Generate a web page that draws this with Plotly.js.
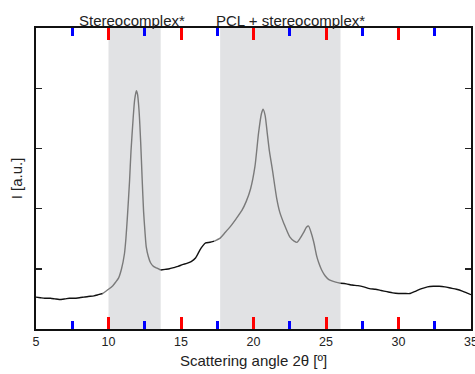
<!DOCTYPE html>
<html>
<head>
<meta charset="utf-8">
<script src="https://cdn.plot.ly/plotly-3.0.1.min.js"></script>
<style>html,body{margin:0;padding:0;background:#fff;}#chart{width:475px;height:374px;}</style>
</head>
<body>
<div id="chart"></div>
<script>
// Scattering angle 2θ (degrees)
const angle = [5, 5.3, 5.6, 6, 6.3, 6.6, 7, 7.3, 7.6, 8, 8.3, 8.6, 9, 9.3, 9.6, 10, 10.3, 10.5, 10.7, 10.9, 11.1, 11.2, 11.3, 11.45, 11.55, 11.7, 11.8, 11.92, 12.0, 12.1, 12.22, 12.32, 12.42, 12.52, 12.6, 12.75, 12.9, 13.1, 13.35, 13.6, 13.9, 14.2, 14.5, 14.8, 15.1, 15.4, 15.7, 16.0, 16.3, 16.5, 16.7, 17.0, 17.3, 17.7, 18.0, 18.4, 18.8, 19.2, 19.5, 19.8, 20.1, 20.35, 20.55, 20.66, 20.8, 20.95, 21.1, 21.3, 21.6, 21.8, 22.1, 22.5, 22.8, 23.0, 23.2, 23.45, 23.65, 23.8, 23.95, 24.15, 24.35, 24.5, 24.7, 24.95, 25.2, 25.5, 26, 26.4, 26.8, 27.2, 27.6, 28, 28.4, 28.8, 29.2, 29.6, 30, 30.4, 30.8, 31.2, 31.6, 32, 32.4, 32.8, 33.2, 33.6, 34, 34.4, 34.7, 35];
// Intensity (a.u.)
const intensity = [0.53, 0.52, 0.51, 0.51, 0.50, 0.49, 0.50, 0.51, 0.51, 0.52, 0.53, 0.54, 0.55, 0.57, 0.59, 0.66, 0.72, 0.78, 0.85, 1.0, 1.25, 1.5, 1.85, 2.45, 2.95, 3.5, 3.8, 3.96, 3.9, 3.65, 3.1, 2.5, 1.95, 1.6, 1.37, 1.2, 1.1, 1.04, 1.01, 0.98, 0.99, 1.0, 1.02, 1.04, 1.07, 1.09, 1.12, 1.18, 1.31, 1.38, 1.43, 1.44, 1.46, 1.51, 1.59, 1.7, 1.83, 1.97, 2.12, 2.33, 2.7, 3.26, 3.58, 3.65, 3.55, 3.25, 2.95, 2.65, 2.17, 1.95, 1.75, 1.53, 1.46, 1.44, 1.5, 1.6, 1.69, 1.71, 1.62, 1.45, 1.22, 1.1, 0.98, 0.88, 0.82, 0.79, 0.76, 0.75, 0.73, 0.72, 0.70, 0.67, 0.66, 0.64, 0.62, 0.60, 0.59, 0.59, 0.59, 0.63, 0.67, 0.70, 0.71, 0.71, 0.70, 0.68, 0.66, 0.63, 0.60, 0.57, 0.53];
// Shaded regions
const regionStart = [10.0, 17.7];
const regionEnd = [13.6, 26.0];
const regionLabels = ["Stereocomplex*", "PCL + stereocomplex*"];
const regionLabelX = [11.64, 22.54];
const yTickVals = [1, 2, 3, 4];

function inRegion(x){
  for (let i = 0; i < regionStart.length; i++) if (x >= regionStart[i] && x <= regionEnd[i]) return true;
  return false;
}
const traces = [];
let cur = null;
for (let i = 0; i < angle.length; i++) {
  const g = inRegion(angle[i]);
  if (!cur || cur.g !== g) {
    const seg = {g: g, x: [], y: []};
    if (cur) { seg.x.push(angle[i-1]); seg.y.push(intensity[i-1]); }
    traces.push(seg); cur = seg;
  }
  cur.x.push(angle[i]); cur.y.push(intensity[i]);
}
const data = traces.map(s => ({
  x: s.x, y: s.y, type: 'scatter', mode: 'lines', hoverinfo: 'skip',
  line: {color: s.g ? '#7a7a7a' : '#111111', width: 1.4, shape: 'spline', smoothing: 0.6},
  showlegend: false
}));

const FONT = 'Liberation Sans, Arial, sans-serif';
const shapes = regionStart.map((s, i) => ({
  type: 'rect', xref: 'x', yref: 'paper', x0: s, x1: regionEnd[i], y0: 0, y1: 1,
  fillcolor: '#e1e2e4', line: {width: 0}, layer: 'below'
}));
const annotations = regionLabels.map((t, i) => ({
  text: t, xref: 'x', yref: 'paper', x: regionLabelX[i], y: 1, yanchor: 'bottom', yshift: -3,
  showarrow: false, font: {family: FONT, size: 15, color: '#222'}
}));
annotations.push({
  text: 'I [a.u.]', xref: 'paper', yref: 'paper', x: -0.044, y: 0.5, xanchor: 'center', yanchor: 'middle',
  textangle: -90, showarrow: false, font: {family: FONT, size: 15, color: '#222'}
});

const layout = {
  width: 475, height: 374,
  margin: {l: 36, r: 4, t: 28, b: 45},
  paper_bgcolor: '#fff', plot_bgcolor: 'rgba(0,0,0,0)',
  font: {family: FONT, size: 12.5, color: '#222'},
  xaxis: {
    range: [5, 35], tickmode: 'linear', tick0: 5, dtick: 5, ticks: 'inside', ticklen: 12, tickwidth: 3, tickcolor: 'red',
    minor: {dtick: 2.5, ticks: 'inside', ticklen: 8, tickwidth: 3, tickcolor: 'blue', showgrid: false},
    showline: true, linecolor: '#111', linewidth: 1.6, mirror: 'ticks', showgrid: false, zeroline: false,
    ticklabeloverflow: 'allow',
    tickfont: {size: 12.5, color: '#222'},
    title: {text: 'Scattering angle 2θ [º]', font: {size: 15, color: '#222'}, standoff: 8}
  },
  yaxis: {
    range: [0, 5], tickvals: yTickVals, showticklabels: false, ticks: 'inside', ticklen: 6, tickwidth: 1.4, tickcolor: '#222',
    showline: true, linecolor: '#111', linewidth: 1.6, mirror: 'ticks', showgrid: false, zeroline: false
  },
  shapes: shapes,
  annotations: annotations
};
Plotly.newPlot('chart', data, layout, {displayModeBar: false, staticPlot: true});
</script>
</body>
</html>
